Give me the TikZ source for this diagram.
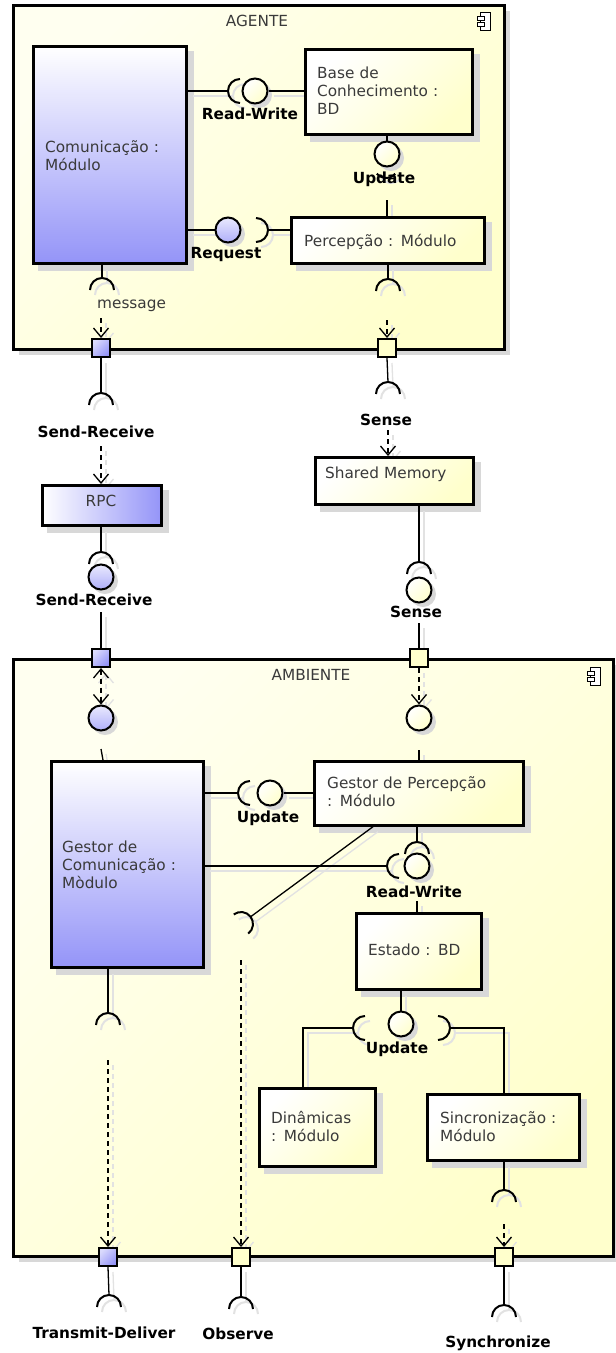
\documentclass[tikz,border=0pt]{standalone}
\usepackage{fontspec}
\setmainfont{DejaVu Sans}
\usetikzlibrary{arrows.meta,calc}

\definecolor{ylw}{HTML}{FFFFCC}
\definecolor{blu}{HTML}{9494F8}
\definecolor{boxshade}{HTML}{D8D8D8}
\definecolor{wireshade}{HTML}{E2E2E2}
\definecolor{txtgray}{HTML}{3A3A3A}
\colorlet{ink}{black}

\pgfdeclarelayer{frames}
\pgfdeclarelayer{shadows}
\pgfsetlayers{frames,shadows,main}

\tikzset{
  frame/.style={draw=black, line width=2.8pt, top color=ylw!30!white, bottom color=ylw,
    shading angle=45, inner sep=0pt, anchor=north west},
  ybox/.style={draw=black, line width=2.7pt, top color=white, bottom color=ylw,
    shading angle=45, inner sep=0pt, anchor=north west},
  bbox/.style={ybox, top color=white, bottom color=blu},
  yport/.style={draw=black, line width=2pt, minimum size=18pt, inner sep=0pt, fill=ylw},
  bport/.style={yport, top color=blu!35!white, bottom color=blu, shading angle=45},
  yball/.style={circle, draw=black, line width=2pt, minimum size=25pt, inner sep=0pt,
    top color=white, bottom color=ylw, shading angle=45},
  bball/.style={yball, top color=blu!20!white, bottom color=blu!75!white},
  ln/.style={draw=ink, line width=1.3pt},
  sk/.style={draw=ink, line width=2pt},
  dsh/.style={draw=ink, line width=1.3pt, dash pattern=on 5pt off 4pt},
  txt/.style={font=\fontsize{15.3pt}{18pt}\selectfont, text=txtgray, inner sep=0pt,
    text width=220pt, align=left, anchor=base west},
  ttl/.style={font=\fontsize{15.3pt}{18pt}\selectfont, text=txtgray, inner sep=0pt, anchor=base},
  lbl/.style={font=\fontsize{15.3pt}{18pt}\selectfont\bfseries, text=black, inner sep=0pt, anchor=base},
}

% socket (required interface) half circle around a named centre
\newcommand\sockarc[3]{\draw[sk] (#1) ++(#2:12) arc[start angle=#2, end angle=#3, radius=12];}

% small UML component glyph, top left corner of its body at (#1,#2)
\newcommand\compicon[2]{%
  \draw[line width=1pt, fill=white] (#1,#2) rectangle ++(10,18);
  \draw[line width=1pt, fill=white] (#1-3,#2+4) rectangle ++(7,4);
  \draw[line width=1pt, fill=white] (#1-3,#2+10) rectangle ++(7,4);}

% every connector and socket of the diagram
\newcommand\wires{%
  % --- AGENTE ---
  \draw[ln] (com.east |- sRW1) -- ($(sRW1)+(-12,0)$);
  \draw[ln] (bRW1.east) -- (base.west |- bRW1);
  \sockarc{sRW1}{90}{270}
  \draw[ln] (bUp1 |- base.south) -- (bUp1.north);
  \sockarc{sUp1}{40}{140}
  \draw[ln] (bUp1 |- 0,200) -- (bUp1 |- perc.north);
  \draw[ln] (com.east |- bReq) -- (bReq.west);
  \sockarc{sReq}{-90}{90}
  \draw[ln] ($(sReq)+(12,0)$) -- (perc.west |- sReq);
  \draw[ln] (sMsg |- com.south) -- ($(sMsg)+(0,-12)$);
  \sockarc{sMsg}{180}{360}
  \draw[dsh,->] (portA1 |- 0,318) -- (portA1.north);
  \draw[ln] (sPerc |- perc.south) -- ($(sPerc)+(0,-12)$);
  \sockarc{sPerc}{180}{360}
  \draw[dsh,->] (portA2 |- 0,320) -- (portA2.north);
  % --- between the components ---
  \draw[ln] (portA1.south) -- ($(sSR1)+(0,-12)$);
  \sockarc{sSR1}{180}{360}
  \draw[dsh,->] (sSR1 |- 0,446) -- (sSR1 |- rpc.north);
  \draw[ln] (sSR2 |- rpc.south) -- ($(sSR2)+(0,-12)$);
  \sockarc{sSR2}{180}{360}
  \draw[ln] (bSR |- 0,612) -- (portB1.north);
  \draw[ln] (portA2.south) -- ($(sSen1)+(0,-12)$);
  \sockarc{sSen1}{180}{360}
  \draw[dsh,->] (sSen1 |- 0,430) -- (sSen1 |- shm.north);
  \draw[ln] (sSen2 |- shm.south) -- ($(sSen2)+(0,-12)$);
  \sockarc{sSen2}{180}{360}
  \draw[ln] (bSen |- 0,623) -- (portB2.north);
  % --- AMBIENTE ---
  \draw[dsh,<->] (portB1.south) -- (bAmbL.north);
  \draw[ln] (bAmbL |- 0,749) -- ($(gcom.north west)+(53,0)$);
  \draw[dsh,->] (portB2.south) -- (bAmbR.north);
  \draw[ln] (bAmbR |- 0,750) -- (bAmbR |- gper.north);
  \draw[ln] (gcom.east |- sUp2) -- ($(sUp2)+(-12,0)$);
  \sockarc{sUp2}{90}{270}
  \draw[ln] (bUp2.east) -- (gper.west |- bUp2);
  \draw[ln] (sAmbPer |- gper.south) -- ($(sAmbPer)+(0,-12)$);
  \sockarc{sAmbPer}{180}{360}
  \draw[ln] (gcom.east |- sRW2) -- ($(sRW2)+(-12,0)$);
  \sockarc{sRW2}{90}{270}
  \draw[ln] (bRW2 |- 0,901) -- (bRW2 |- estado.north);
  \draw[ln] ($(gper.south west)+(60,0)$) -- ($(sObs)+(-37:12)$);
  \sockarc{sObs}{-127}{53}
  \draw[dsh,->] (portC2 |- 0,960) -- (portC2.north);
  \draw[ln] (sGcom |- gcom.south) -- ($(sGcom)+(0,-12)$);
  \sockarc{sGcom}{180}{360}
  \draw[dsh,->] (portC1 |- 0,1060) -- (portC1.north);
  \draw[ln] (bUp3 |- estado.south) -- (bUp3.north);
  \sockarc{sUp3L}{90}{270}
  \sockarc{sUp3R}{-90}{90}
  \draw[ln] ($(sUp3L)+(-12,0)$) -| ($(din.north west)+(45,0)$);
  \draw[ln] ($(sUp3R)+(12,0)$) -| ($(sinc.north west)+(78,0)$);
  \draw[ln] (sSinc |- sinc.south) -- ($(sSinc)+(0,-12)$);
  \sockarc{sSinc}{180}{360}
  \draw[dsh,->] (portC3 |- 0,1224) -- (portC3.north);
  % --- external sockets below AMBIENTE ---
  \draw[ln] (portC1.south) -- ($(sTD)+(0,-12)$);
  \sockarc{sTD}{180}{360}
  \draw[ln] (portC2.south) -- ($(sObsB)+(0,-12)$);
  \sockarc{sObsB}{180}{360}
  \draw[ln] (portC3.south) -- ($(sSyn)+(0,-12)$);
  \sockarc{sSyn}{180}{360}
}

\begin{document}
\begin{tikzpicture}[x=1pt, y=-1pt,
  >={Straight Barb[length=9pt, width=15pt]}]
\useasboundingbox (0,0) rectangle (616,1353);

% ---------- component frames ----------
\begin{pgfonlayer}{frames}
  \fill[white] (0,0) rectangle (616,1353);
  \fill[boxshade] (19,11) rectangle (510,355);
  \node[frame, minimum width=491pt, minimum height=344pt] (agente) at (12,4) {};
  \fill[boxshade] (19,665) rectangle (619,1262);
  \node[frame, minimum width=600pt, minimum height=597pt] (ambiente) at (12,658) {};
\end{pgfonlayer}
\compicon{480}{12}
\compicon{590}{667}
\node[ttl] (tagente) at (257,26) {AGENTE};
\node[ttl] (tambiente) at (311,680) {AMBIENTE};

% ---------- parts ----------
\node[bbox, minimum width=153pt, minimum height=217pt] (com) at (32,45) {};
\node[ybox, minimum width=167pt, minimum height=85pt] (base) at (304,48) {};
\node[ybox, minimum width=193pt, minimum height=46pt] (perc) at (290,216) {};
\node[ybox, left color=white, right color=blu, minimum width=119pt, minimum height=40pt] (rpc) at (41,484) {};
\node[ybox, minimum width=158pt, minimum height=47pt] (shm) at (314,456) {};
\node[bbox, minimum width=152pt, minimum height=206pt] (gcom) at (50,760) {};
\node[ybox, minimum width=209pt, minimum height=64pt] (gper) at (313,760) {};
\node[ybox, minimum width=125pt, minimum height=76pt] (estado) at (355,912) {};
\node[ybox, minimum width=116pt, minimum height=78pt] (din) at (258,1087) {};
\node[ybox, minimum width=152pt, minimum height=66pt] (sinc) at (426,1093) {};

\node[txt] (tcom) at (45,152) {Comunicação :\\Módulo};
\node[txt] (tbase) at (317,78) {Base de\\Conhecimento :\\BD};
\node[txt] (tperc) at (304,246) {Percepção : Módulo};
\node[ttl] (trpc) at (101,506) {RPC};
\node[txt] (tshm) at (325,478) {Shared Memory};
\node[txt] (tgcom) at (62,852) {Gestor de\\Comunicação :\\Mòdulo};
\node[txt] (tgper) at (327,788) {Gestor de Percepção\\: Módulo};
\node[txt] (testado) at (368,955) {Estado : BD};
\node[txt] (tdin) at (271,1123) {Dinâmicas\\: Módulo};
\node[txt] (tsinc) at (440,1123) {Sincronização :\\Módulo};

% ---------- ports ----------
\node[bport] (portA1) at (101,348) {};
\node[yport] (portA2) at (387,348) {};
\node[bport] (portB1) at (101,658) {};
\node[yport] (portB2) at (419,658) {};
\node[bport] (portC1) at (108,1257) {};
\node[yport] (portC2) at (241,1257) {};
\node[yport] (portC3) at (504,1257) {};

% ---------- provided interfaces ----------
\node[yball] (bRW1) at (255,91) {};
\node[yball] (bUp1) at (387,154) {};
\node[bball] (bReq) at (228,230) {};
\node[bball] (bSR) at (101,577) {};
\node[yball] (bSen) at (419,590) {};
\node[bball] (bAmbL) at (101,718) {};
\node[yball] (bAmbR) at (419,718) {};
\node[yball] (bUp2) at (270,793) {};
\node[yball] (bRW2) at (417,866) {};
\node[yball] (bUp3) at (401,1024) {};

% ---------- socket centres ----------
\coordinate (sRW1) at (240,91);
\coordinate (sUp1) at (386,166);
\coordinate (sReq) at (256,230);
\coordinate (sMsg) at (102,290);
\coordinate (sPerc) at (388,291);
\coordinate (sSR1) at (101,405);
\coordinate (sSen1) at (388,394);
\coordinate (sSR2) at (101,564);
\coordinate (sSen2) at (419,574);
\coordinate (sUp2) at (250,793);
\coordinate (sAmbPer) at (417,854);
\coordinate (sRW2) at (399,866);
\coordinate (sObs) at (241,924);
\coordinate (sGcom) at (108,1025);
\coordinate (sUp3L) at (365,1028);
\coordinate (sUp3R) at (438,1028);
\coordinate (sSinc) at (504,1202);
\coordinate (sTD) at (109,1307);
\coordinate (sObsB) at (241,1309);
\coordinate (sSyn) at (504,1317);

% ---------- shadows ----------
\begin{pgfonlayer}{shadows}
  \foreach \b in {com,base,perc,rpc,shm,gcom,gper,estado,din,sinc}
    \fill[boxshade] ($(\b.north west)+(6,6)$) rectangle ($(\b.south east)+(6,6)$);
  \foreach \b in {bRW1,bUp1,bReq,bSR,bSen,bAmbL,bAmbR,bUp2,bRW2,bUp3}
    \fill[boxshade] ($(\b)+(4,4)$) circle[radius=13];
  \begin{scope}[transform canvas={shift={(5pt,-5pt)}}]
    \colorlet{ink}{wireshade}
    \wires
  \end{scope}
\end{pgfonlayer}

% ---------- connectors ----------
\wires

% ---------- interface labels ----------
\node[lbl] (lRW1) at (250,119) {Read-Write};
\node[lbl] (lUp1) at (384,183) {Update};
\node[lbl] (lReq) at (226,258) {Request};
\node[txt] (lMsg) at (97,308) {message};
\node[lbl] (lSR1) at (96,437) {Send-Receive};
\node[lbl] (lSen1) at (386,425) {Sense};
\node[lbl] (lSR2) at (94,605) {Send-Receive};
\node[lbl] (lSen2) at (416,617) {Sense};
\node[lbl] (lUp2) at (268,822) {Update};
\node[lbl] (lRW2) at (414,897) {Read-Write};
\node[lbl] (lUp3) at (397,1053) {Update};
\node[lbl] (lTD) at (104,1338) {Transmit-Deliver};
\node[lbl] (lObs) at (238,1339) {Observe};
\node[lbl] (lSyn) at (498,1347) {Synchronize};
\end{tikzpicture}
\end{document}
